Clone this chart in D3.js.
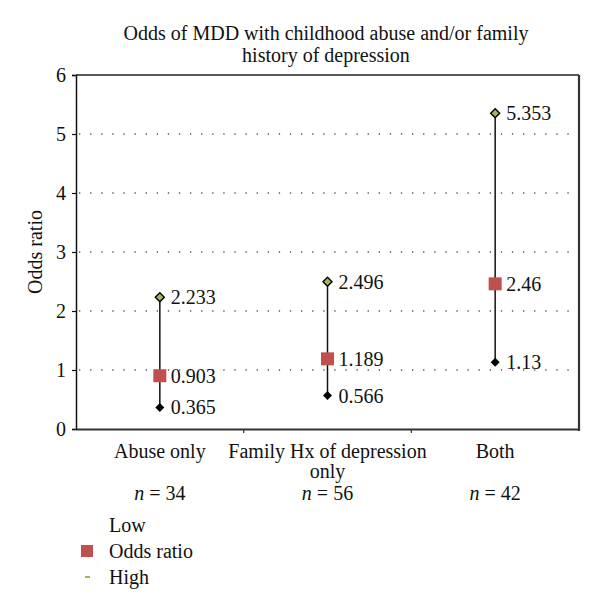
<!DOCTYPE html>
<html><head><meta charset="utf-8">
<script src="https://cdn.jsdelivr.net/npm/d3@7"></script>
<style>body{margin:0;background:#fff}svg{display:block}text{font-family:"Liberation Serif","DejaVu Serif",serif;fill:#111}</style>
</head><body>
<div id="chart"></div>
<script>
const categories = [["Abuse only"], ["Family Hx of depression", "only"], ["Both"]];
const lowValues = [0.365, 0.566, 1.13];
const oddsValues = [0.903, 1.189, 2.46];
const highValues = [2.233, 2.496, 5.353];
const nLabels = ["34", "56", "42"];
const yTicks = [0, 1, 2, 3, 4, 5, 6];
const gridValues = [1, 2, 3, 4, 5];
const titleLines = ["Odds of MDD with childhood abuse and/or family", "history of depression"];
const legendItems = ["Low", "Odds ratio", "High"];

const FS = "20px";
const W = 600, H = 609;
const m = {left: 76, right: 21, top: 75, bottom: 180};
const svg = d3.select("#chart").append("svg").attr("width", W).attr("height", H);

const x = d3.scaleBand().domain(d3.range(categories.length)).range([m.left, W - m.right]);
const y = d3.scaleLinear().domain([0, 6]).range([H - m.bottom, m.top]);
const cx = i => x(i) + x.bandwidth() / 2;

// title
svg.append("g").selectAll("text").data(titleLines).join("text")
  .attr("x", 326).attr("y", (d, i) => 40 + i * 22)
  .attr("text-anchor", "middle").style("font-size", FS).text(d => d);

// grid
svg.append("g").selectAll("line").data(gridValues).join("line")
  .attr("x1", m.left + 3).attr("x2", W - m.right - 3)
  .attr("y1", d => y(d)).attr("y2", d => y(d))
  .attr("stroke", "#555").attr("stroke-width", 1.3).attr("stroke-dasharray", "1.3,9.8");

// frame top/right
svg.append("line").attr("x1", m.left).attr("x2", W - m.right).attr("y1", y(6)).attr("y2", y(6))
  .attr("stroke", "#222").attr("stroke-width", 1.5);
svg.append("line").attr("x1", W - m.right).attr("x2", W - m.right).attr("y1", y(6)).attr("y2", y(0) + 2)
  .attr("stroke", "#333").attr("stroke-width", 2.2);

// y axis
const yAxis = svg.append("g").attr("transform", `translate(${m.left},0)`)
  .call(d3.axisLeft(y).tickValues(yTicks).tickSize(4).tickPadding(6).tickFormat(d3.format("d")));
yAxis.select(".domain").attr("stroke", "#111").attr("stroke-width", 1.5);
yAxis.selectAll(".tick line").attr("stroke", "#111").attr("stroke-width", 1.2);
yAxis.selectAll("text").style("font-size", FS).style("font-family", "'Liberation Serif',serif").attr("fill", "#111");

// x axis
const xAxis = svg.append("g").attr("transform", `translate(0,${y(0)})`)
  .call(d3.axisBottom(x).tickSize(0).tickFormat(""));
xAxis.select(".domain").attr("stroke", "#333").attr("stroke-width", 2.2);
xAxis.selectAll(".tick").remove();
svg.append("g").selectAll("line").data(d3.range(1, categories.length)).join("line")
  .attr("x1", i => x(i)).attr("x2", i => x(i)).attr("y1", y(0)).attr("y2", y(0) + 4)
  .attr("stroke", "#333").attr("stroke-width", 1.2);

// category labels
categories.forEach((lines, i) => {
  svg.append("text").attr("text-anchor", "middle").attr("x", cx(i)).attr("y", 458)
    .style("font-size", FS)
    .selectAll("tspan").data(lines).join("tspan")
    .attr("x", cx(i)).attr("dy", (d, j) => j === 0 ? 0 : 20).text(d => d);
});

// n labels
nLabels.forEach((n, i) => {
  const t = svg.append("text").attr("x", cx(i)).attr("y", 500).attr("text-anchor", "middle").style("font-size", FS);
  t.append("tspan").style("font-style", "italic").text("n");
  t.append("tspan").text(" = " + n);
});

// y label
svg.append("text").attr("transform", `translate(42,${y(3)}) rotate(-90)`)
  .attr("text-anchor", "middle").style("font-size", FS).text("Odds ratio");

// whiskers
const g = svg.append("g");
g.selectAll("line.w").data(d3.range(categories.length)).join("line").attr("class", "w")
  .attr("x1", cx).attr("x2", cx)
  .attr("y1", i => y(lowValues[i])).attr("y2", i => y(highValues[i]))
  .attr("stroke", "#111").attr("stroke-width", 1.5);

const diamond = (px, py, r) => `M${px},${py - r}L${px + r},${py}L${px},${py + r}L${px - r},${py}Z`;
// low
g.selectAll("path.low").data(lowValues).join("path").attr("class", "low")
  .attr("d", (d, i) => diamond(cx(i), y(d), 4.5)).attr("fill", "#000");
// high
g.selectAll("path.high").data(highValues).join("path").attr("class", "high")
  .attr("d", (d, i) => diamond(cx(i), y(d), 4.5)).attr("fill", "#9bbb59").attr("stroke", "#000").attr("stroke-width", 1.4);
// OR squares
g.selectAll("rect.or").data(oddsValues).join("rect").attr("class", "or")
  .attr("x", (d, i) => cx(i) - 6.5).attr("y", d => y(d) - 6.5).attr("width", 13).attr("height", 13)
  .attr("fill", "#c0504d");

// value labels
const labelData = [];
lowValues.forEach((v, i) => labelData.push({i, v}));
oddsValues.forEach((v, i) => labelData.push({i, v}));
highValues.forEach((v, i) => labelData.push({i, v}));
g.selectAll("text.val").data(labelData).join("text").attr("class", "val")
  .attr("x", d => cx(d.i) + 11).attr("y", d => y(d.v)).attr("dy", "0.35em")
  .style("font-size", FS).text(d => String(d.v));

// legend
const lg = svg.append("g");
lg.selectAll("text").data(legendItems).join("text")
  .attr("x", 109).attr("y", (d, i) => 532 + i * 26).style("font-size", FS).text(d => d);
lg.append("rect").attr("x", 81).attr("y", 545).attr("width", 12).attr("height", 12).attr("fill", "#c0504d");
lg.append("rect").attr("x", 85).attr("y", 576).attr("width", 5).attr("height", 2).attr("fill", "#9bbb59");
</script>
</body></html>
